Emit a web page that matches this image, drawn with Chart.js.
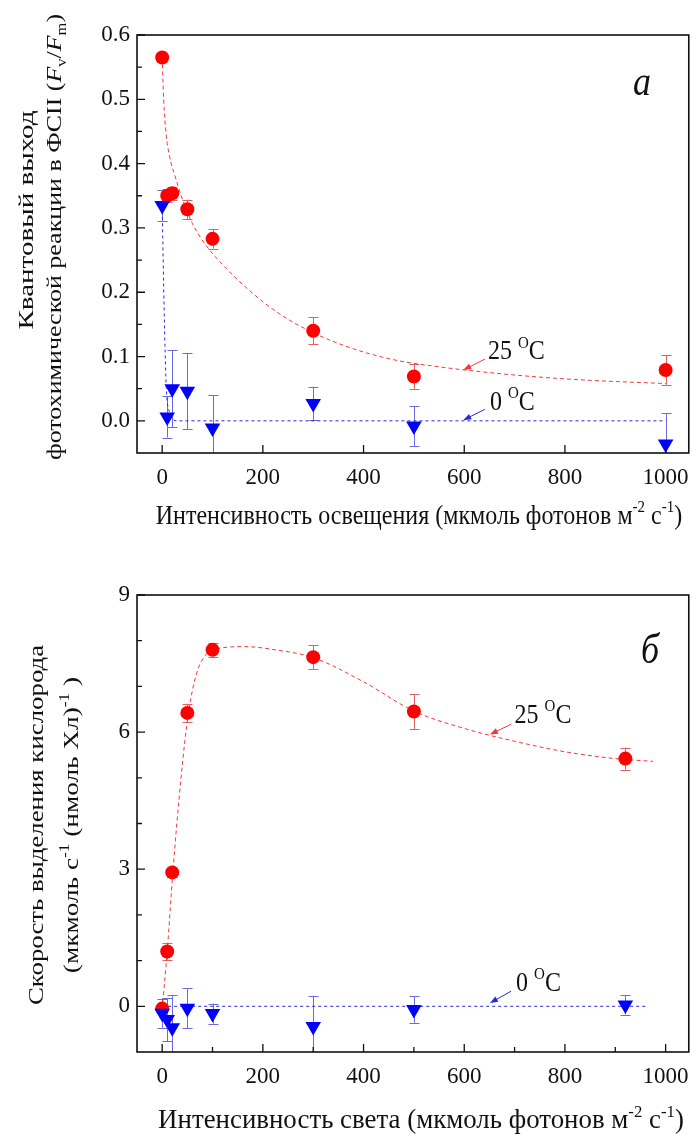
<!DOCTYPE html>
<html>
<head>
<meta charset="utf-8">
<script src="https://cdn.jsdelivr.net/npm/chart.js@4/dist/chart.umd.min.js"></script>
<style>
  html, body { margin: 0; padding: 0; background: #fff; }
  canvas { position: absolute; left: 0; }
  #chartTop { top: 0; }
  #chartBot { top: 560px; }
</style>
</head>
<body>
<canvas id="chartTop" width="700" height="560"></canvas>
<canvas id="chartBot" width="700" height="575"></canvas>
<script>
"use strict";

/* ── data: panel a (quantum yield) ───────────────────────────────────── */
const X_TOP      = [0, 10, 20, 50, 100, 300, 500, 1000];
const Y25_TOP    = [0.565, 0.350, 0.354, 0.329, 0.283, 0.140, 0.069, 0.079];
const E25_TOP    = [0, 0.010, 0.010, 0.015, 0.015, 0.021, 0.019, 0.023];
const Y0_TOP     = [0.335, 0.006, 0.050, 0.046, -0.011, 0.027, -0.008, -0.036];
const E0_TOP     = [0.024, 0.032, 0.060, 0.059, 0.051, 0.026, 0.031, 0.048];
const FIT25_TOP_X = [0, 3, 8, 15, 25, 40, 60, 85, 120, 170, 230, 300, 380, 460, 550, 650, 750, 850, 1000];
const FIT25_TOP_Y = [0.565, 0.50, 0.445, 0.41, 0.382, 0.345, 0.307, 0.275, 0.243, 0.205, 0.168, 0.137, 0.112, 0.095, 0.084, 0.075, 0.068, 0.063, 0.058];
const FIT0_TOP_X  = [0, 4, 8, 14, 30, 1000];
const FIT0_TOP_Y  = [0.335, 0.17, 0.055, 0.015, 0, 0];

/* ── data: panel б (oxygen evolution) ────────────────────────────────── */
const X_BOT      = [0, 10, 20, 50, 100, 300, 500, 920];
const Y25_BOT    = [-0.05, 1.20, 2.93, 6.42, 7.80, 7.64, 6.45, 5.42];
const E25_BOT    = [0, 0.18, 0.10, 0.20, 0.15, 0.26, 0.38, 0.24];
const Y0_BOT     = [-0.15, -0.29, -0.47, -0.04, -0.16, -0.44, -0.07, 0.03];
const E0_BOT     = [0.32, 0.47, 0.72, 0.44, 0.22, 0.67, 0.29, 0.21];
const FIT25_BOT_X = [0, 10, 21, 37, 52, 68, 85, 101, 164, 225, 300, 400, 500, 600, 700, 800, 900, 975];
const FIT25_BOT_Y = [-0.06, 1.2, 2.9, 4.95, 6.4, 7.27, 7.67, 7.8, 7.87, 7.8, 7.63, 7.1, 6.46, 6.08, 5.8, 5.57, 5.42, 5.36];
const FIT0_BOT_X  = [0, 965];
const FIT0_BOT_Y  = [0, 0];

/* ── ticks ───────────────────────────────────────────────────────────── */
const X_TICKS     = [0, 200, 400, 600, 800, 1000];
const X_MINOR_TOP = [];
const X_MINOR_BOT = [100, 300, 500, 700, 900];
const Y_TICKS_TOP = [0, 0.1, 0.2, 0.3, 0.4, 0.5, 0.6];
const Y_MINOR_TOP = [0.05, 0.15, 0.25, 0.35, 0.45, 0.55];
const Y_TICKS_BOT = [0, 3, 6, 9];
const Y_MINOR_BOT = [1, 2, 4, 5, 7, 8];

const SERIF = '"Liberation Serif", "Times New Roman", serif';
const RED = "#ff0000", RED_ERR = "#e46060", RED_FIT = "#f03a3a";
const BLUE = "#0000ff", BLUE_ERR = "#6a6ae4", BLUE_FIT = "#2a2ad8";

const pts = (xs, ys) => xs.map((x, i) => ({ x, y: ys[i] }));

/* ── rich text (super/subscripts, italics) ───────────────────────────── */
function partFont(p, size) {
  const st = p[1] || "";
  const sz = (st === "sup" || st === "sub") ? Math.round(size * 0.62) : size;
  return (st === "i" ? "italic " : "") + sz + "px " + SERIF;
}
function richWidth(ctx, parts, size) {
  let w = 0;
  parts.forEach(p => { ctx.font = partFont(p, size); w += ctx.measureText(p[0]).width; });
  return w;
}
function drawRich(ctx, parts, x, y, size) {
  let cx = x;
  parts.forEach(p => {
    ctx.font = partFont(p, size);
    const dy = p[1] === "sup" ? -size * 0.42 : p[1] === "sub" ? size * 0.22 : 0;
    ctx.fillText(p[0], cx, y + dy);
    cx += ctx.measureText(p[0]).width;
  });
}

/* ── figure plugin: frame, inner ticks, error bars, labels ───────────── */
const figurePlugin = {
  id: "figure",
  beforeDatasetsDraw(chart, args, o) {
    const { ctx, chartArea: a, scales: { x, y } } = chart;
    ctx.save();
    ctx.beginPath();
    ctx.rect(a.left, a.top, a.right - a.left, a.bottom - a.top);
    ctx.clip();
    ctx.lineWidth = 1;
    (o.errorBars || []).forEach(eb => {
      ctx.strokeStyle = eb.color;
      eb.x.forEach((xv, i) => {
        if (!eb.e[i]) return;
        const px = Math.round(x.getPixelForValue(xv)) + 0.5;
        const y1 = y.getPixelForValue(eb.y[i] + eb.e[i]);
        const y2 = y.getPixelForValue(eb.y[i] - eb.e[i]);
        ctx.beginPath();
        ctx.moveTo(px, y1); ctx.lineTo(px, y2);
        ctx.moveTo(px - 5, Math.round(y1) + 0.5); ctx.lineTo(px + 5, Math.round(y1) + 0.5);
        ctx.moveTo(px - 5, Math.round(y2) + 0.5); ctx.lineTo(px + 5, Math.round(y2) + 0.5);
        ctx.stroke();
      });
    });
    ctx.restore();
  },
  afterDraw(chart, args, o) {
    const { ctx, chartArea: a, scales: { x, y } } = chart;
    ctx.save();
    // frame
    ctx.strokeStyle = "#111";
    ctx.lineWidth = 1.6;
    ctx.strokeRect(a.left, a.top, a.right - a.left, a.bottom - a.top);
    // inner ticks
    ctx.lineWidth = 1.3;
    ctx.beginPath();
    x.ticks.forEach(t => { const px = x.getPixelForValue(t.value); ctx.moveTo(px, a.bottom); ctx.lineTo(px, a.bottom - 8); });
    o.xMinor.forEach(v => { const px = x.getPixelForValue(v); ctx.moveTo(px, a.bottom); ctx.lineTo(px, a.bottom - 5); });
    y.ticks.forEach(t => { const py = y.getPixelForValue(t.value); ctx.moveTo(a.left, py); ctx.lineTo(a.left + 8, py); });
    o.yMinor.forEach(v => { const py = y.getPixelForValue(v); ctx.moveTo(a.left, py); ctx.lineTo(a.left + 5, py); });
    ctx.stroke();

    // annotation arrows + labels
    (o.notes || []).forEach(n => {
      const tx = x.getPixelForValue(n.tail[0]), ty = y.getPixelForValue(n.tail[1]);
      const hx = x.getPixelForValue(n.tip[0]), hy = y.getPixelForValue(n.tip[1]);
      const ang = Math.atan2(hy - ty, hx - tx);
      ctx.strokeStyle = n.color; ctx.fillStyle = n.color; ctx.lineWidth = 1;
      ctx.beginPath(); ctx.moveTo(tx, ty); ctx.lineTo(hx - 5 * Math.cos(ang), hy - 5 * Math.sin(ang)); ctx.stroke();
      ctx.beginPath();
      ctx.moveTo(hx, hy);
      ctx.lineTo(hx - 8 * Math.cos(ang) + 3 * Math.sin(ang), hy - 8 * Math.sin(ang) - 3 * Math.cos(ang));
      ctx.lineTo(hx - 8 * Math.cos(ang) - 3 * Math.sin(ang), hy - 8 * Math.sin(ang) + 3 * Math.cos(ang));
      ctx.closePath(); ctx.fill();
      ctx.fillStyle = "#111";
      ctx.textBaseline = "alphabetic";
      ctx.save();
      ctx.translate(x.getPixelForValue(n.at[0]), y.getPixelForValue(n.at[1]));
      ctx.scale(1, 1.15);
      drawRich(ctx, n.parts, 0, 0, 24);
      ctx.restore();
    });

    // axis titles (sx stretches along the reading direction, sy across it)
    ctx.fillStyle = "#111";
    ctx.textBaseline = "alphabetic";
    (o.titles || []).forEach(t => {
      const w = richWidth(ctx, t.parts, t.size);
      ctx.save();
      ctx.translate(t.x, t.y);
      if (t.rot) ctx.rotate(-Math.PI / 2);
      ctx.scale(t.sx || 1, t.sy || 1);
      drawRich(ctx, t.parts, -w / 2, 0, t.size);
      ctx.restore();
    });

    // panel letter
    ctx.save();
    ctx.translate(o.letter.x, o.letter.y);
    ctx.scale(1, 1.15);
    ctx.font = "italic 36px " + SERIF;
    ctx.fillText(o.letter.text, 0, 0);
    ctx.restore();
    ctx.restore();
  }
};

/* ── chart builder ──────────────────────────────────────────────────── */
function buildChart(id, c) {
  const scatter = (data, color, style, r) => ({
    type: "scatter", data, showLine: false,
    pointStyle: style, pointRadius: r, pointHoverRadius: r,
    rotation: style === "triangle" ? 180 : 0,
    backgroundColor: color, borderColor: color, borderWidth: 0,
  });
  const fit = (data, color, dash) => ({
    type: "line", data, showLine: true, pointRadius: 0,
    borderColor: color, borderWidth: 1, borderDash: dash,
    cubicInterpolationMode: "monotone", fill: false,
  });
  return new Chart(document.getElementById(id), {
    type: "scatter",
    data: {
      datasets: [
        { ...scatter(c.p0, BLUE, "triangle", 9), order: 1 },
        { ...scatter(c.p25, RED, "circle", 7), order: 2 },
        { ...fit(c.f25, RED_FIT, [4, 3]), order: 3 },
        { ...fit(c.f0, BLUE_FIT, [3, 3]), order: 4 },
      ],
    },
    options: {
      responsive: false,
      animation: false,
      events: [],
      layout: { padding: { left: 0, right: 3, top: 35, bottom: 0 } },
      plugins: {
        legend: { display: false },
        tooltip: { enabled: false },
        figure: c.fig,
      },
      scales: {
        x: {
          type: "linear", min: -50, max: 1046,
          grid: { display: false, drawTicks: false },
          border: { display: false },
          afterBuildTicks: s => { s.ticks = X_TICKS.map(v => ({ value: v })); },
          afterFit: s => { s.height = c.xHeight; },
          ticks: { color: "#111", padding: 11, maxRotation: 0, autoSkip: false,
                   font: { family: SERIF, size: 23 }, callback: v => String(v) },
        },
        y: {
          type: "linear", min: c.yMin, max: c.yMax,
          grid: { display: false, drawTicks: false },
          border: { display: false },
          afterBuildTicks: s => { s.ticks = c.yTicks.map(v => ({ value: v })); },
          afterFit: s => { s.width = 137; },
          ticks: { color: "#111", padding: 7, autoSkip: false,
                   font: { family: SERIF, size: 23 }, callback: c.yFmt },
        },
      },
    },
    plugins: [figurePlugin],
  });
}

const SUP_O = [["25 "], ["O", "sup"], ["C"]];
const SUP_O0 = [["0 "], ["O", "sup"], ["C"]];

buildChart("chartTop", {
  p25: pts(X_TOP, Y25_TOP), p0: pts(X_TOP, Y0_TOP),
  f25: pts(FIT25_TOP_X, FIT25_TOP_Y), f0: pts(FIT0_TOP_X, FIT0_TOP_Y),
  yMin: -0.05, yMax: 0.6, yTicks: Y_TICKS_TOP, yFmt: v => v.toFixed(1),
  xHeight: 560 - 453,
  fig: {
    xMinor: X_MINOR_TOP, yMinor: Y_MINOR_TOP,
    errorBars: [
      { x: X_TOP, y: Y25_TOP, e: E25_TOP, color: RED_ERR },
      { x: X_TOP, y: Y0_TOP, e: E0_TOP, color: BLUE_ERR },
    ],
    notes: [
      { parts: SUP_O, at: [647, 0.096], tail: [641, 0.096], tip: [598, 0.079], color: RED_FIT },
      { parts: SUP_O0, at: [651, 0.017], tail: [641, 0.018], tip: [598, 0.001], color: BLUE_FIT },
    ],
    titles: [
      { parts: [["Квантовый выход"]], x: 33, y: 220, rot: true, size: 22, sx: 1.32 },
      { parts: [["фотохимической реакции в ФСII ("], ["F", "i"], ["v", "sub"], ["/"], ["F", "i"], ["m", "sub"], [")"]],
        x: 61, y: 237, rot: true, size: 22, sx: 1.18 },
      { parts: [["Интенсивность освещения (мкмоль фотонов м"], ["-2", "sup"], [" с"], ["-1", "sup"], [")"]],
        x: 419, y: 524, rot: false, size: 24, sy: 1.15 },
    ],
    letter: { text: "а", x: 633, y: 95 },
  },
});

buildChart("chartBot", {
  p25: pts(X_BOT, Y25_BOT), p0: pts(X_BOT, Y0_BOT),
  f25: pts(FIT25_BOT_X, FIT25_BOT_Y), f0: pts(FIT0_BOT_X, FIT0_BOT_Y),
  yMin: -1, yMax: 9, yTicks: Y_TICKS_BOT, yFmt: v => String(v),
  xHeight: 575 - 492,
  fig: {
    xMinor: X_MINOR_BOT, yMinor: Y_MINOR_BOT,
    errorBars: [
      { x: X_BOT, y: Y25_BOT, e: E25_BOT, color: RED_ERR },
      { x: X_BOT, y: Y0_BOT, e: E0_BOT, color: BLUE_ERR },
    ],
    notes: [
      { parts: SUP_O, at: [700, 6.21], tail: [693, 6.17], tip: [651, 5.95], color: RED_FIT },
      { parts: SUP_O0, at: [703, 0.34], tail: [693, 0.33], tip: [651, 0.07], color: BLUE_FIT },
    ],
    titles: [
      { parts: [["Скорость выделения кислорода"]], x: 43, y: 265, rot: true, size: 22, sx: 1.22 },
      { parts: [["(мкмоль с"], ["-1", "sup"], [" (нмоль Хл)"], ["-1", "sup"], [" )"]],
        x: 78, y: 265, rot: true, size: 22, sx: 1.24 },
      { parts: [["Интенсивность света (мкмоль фотонов м"], ["-2", "sup"], [" с"], ["-1", "sup"], [")"]],
        x: 421, y: 568, rot: false, size: 24, sx: 1.12, sy: 1.1 },
    ],
    letter: { text: "б", x: 641, y: 103 },
  },
});
</script>
</body>
</html>
